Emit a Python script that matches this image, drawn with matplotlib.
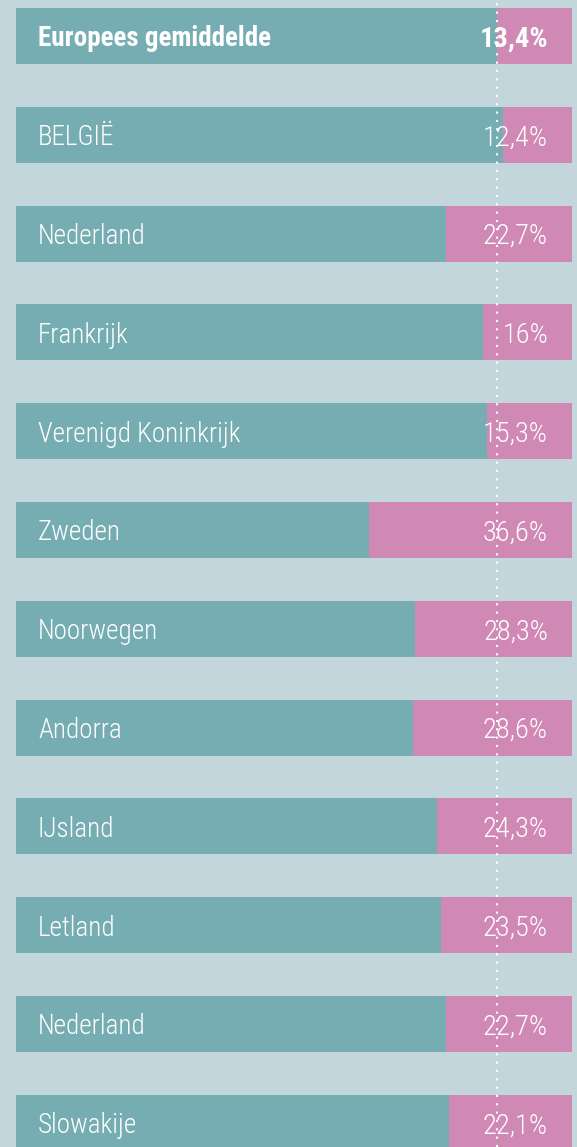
import matplotlib
matplotlib.use("Agg")
import matplotlib.pyplot as plt
from matplotlib import font_manager as fm

countries = ["Europees gemiddelde", "BELGIË", "Nederland", "Frankrijk",
             "Verenigd Koninkrijk", "Zweden", "Noorwegen", "Andorra",
             "IJsland", "Letland", "Nederland", "Slowakije"]
values = [13.4, 12.4, 22.7, 16.0, 15.3, 36.6, 28.3, 28.6, 24.3, 23.5, 22.7, 22.1]
value_labels = ["13,4%", "12,4%", "22,7%", "16%", "15,3%", "36,6%", "28,3%",
                "28,6%", "24,3%", "23,5%", "22,7%", "22,1%"]

BG = "#c3d6dc"
TEAL = "#75adb2"
PINK = "#d088b4"

names = {f.name for f in fm.fontManager.ttflist}
family = "DejaVu Sans"
for cand in ["Roboto Condensed", "Liberation Sans Narrow", "Open Sans Condensed", "Noto Sans"]:
    if cand in names:
        family = cand
        break

W, H = 577, 1147
fig = plt.figure(figsize=(W / 100, H / 100), dpi=100, facecolor=BG)
ax = fig.add_axes([0, 0, 1, 1])
ax.set_facecolor(BG)
ax.axis("off")

px_per_unit = 556 / 100.0
ax.set_xlim(-16 / px_per_unit, (W - 16) / px_per_unit)
spacing = 98.8
ax.set_ylim((H - 36) / spacing, -36 / spacing)

bh = 56 / spacing
ys = list(range(len(countries)))
teal_w = [100 - v for v in values]
ax.barh(ys, teal_w, left=0, height=bh, color=TEAL, linewidth=0)
ax.barh(ys, values, left=teal_w, height=bh, color=PINK, linewidth=0)

for i, (name, lab) in enumerate(zip(countries, value_labels)):
    weight = "bold" if i == 0 else "light"
    ax.text(22 / px_per_unit, i, name, color="white", fontsize=19.5, family=family,
            fontweight=weight, va="center_baseline", ha="left")
    ax.text((548 - 16) / px_per_unit, i, lab, color="white", fontsize=20.5, family=family,
            fontweight=weight, va="center_baseline", ha="right")

ax.axvline(100 - values[0], color="white", linewidth=1.5, linestyle=(0, (1, 3)), zorder=5)

fig.savefig("out.png", dpi=100, facecolor=BG)
